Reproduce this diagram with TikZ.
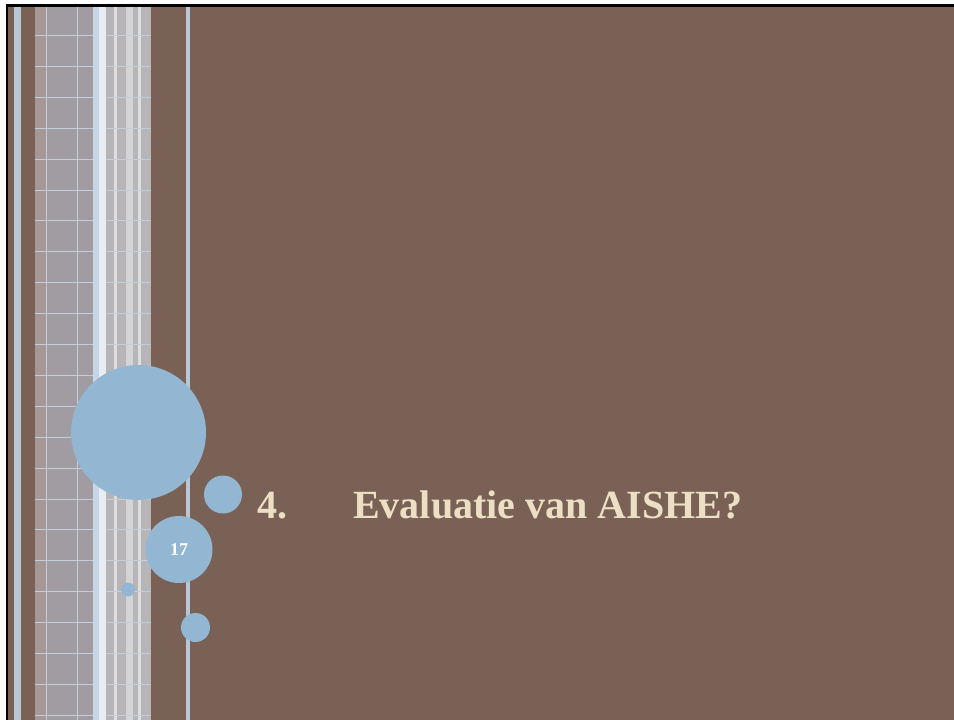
\documentclass[tikz,border=0pt]{standalone}
\usepackage{fontspec}
\setmainfont{Liberation Serif}
\definecolor{bg}{HTML}{796156}
\definecolor{circ}{HTML}{93B6D3}
\definecolor{cream}{HTML}{EDDFC4}
\definecolor{thinstripe}{HTML}{B9C6D3}
\definecolor{plaidA}{HTML}{A69896}
\definecolor{plaidB}{HTML}{A09CA1}
\definecolor{plaidC}{HTML}{B8B5B9}
\definecolor{plaidL}{HTML}{C2CEDC}
\definecolor{bandblue}{HTML}{C4D6E7}
\definecolor{bandwhite}{HTML}{E9EDF1}
\tikzset{
  dot/.style={circle, fill=circ, draw=none, inner sep=0pt},
  titletext/.style={anchor=base west, text=cream, inner sep=0pt, font=\bfseries\fontsize{40}{48}\selectfont},
}
\begin{document}
\begin{tikzpicture}[x=1pt,y=-1pt]
\useasboundingbox (0,0) rectangle (954,720);
\fill[white] (0,0) rectangle (954,720);
\fill[bg] (8,7) rectangle (954,720);
% thin stripes
\fill[thinstripe] (14,7) rectangle (21,720);
\fill[thinstripe] (186,7) rectangle (190,720);
% plaid
\fill[plaidA] (35,7) rectangle (46,720);
\fill[plaidB] (46,7) rectangle (93,720);
\fill[plaidC] (106,7) rectangle (151,720);
\fill[white!55!plaidC] (114,7) rectangle (117,720);
\fill[white!40!plaidC] (126,7) rectangle (133,720);
\fill[white!55!plaidC] (138,7) rectangle (141,720);
\fill[plaidL] (46,7) rectangle (47,720);
\fill[plaidL] (76.5,7) rectangle (77.5,720);
\foreach \i in {0,...,22} {
  \fill[plaidL] (35,35+\i*30.9) rectangle (151,35.9+\i*30.9);
}
\fill[bandblue] (93,7) rectangle (99,720);
\fill[bandwhite] (99,7) rectangle (106,720);
% border
\fill[black] (6,4) rectangle (954,7);
\fill[black] (6,4) rectangle (8,720);
% circles
\node[dot, minimum size=135pt] (big) at (138.5,432.5) {};
\node[dot, minimum size=38pt] (mid) at (223,494.5) {};
\node[dot, minimum size=67pt, text=white, font=\bfseries\fontsize{18}{20}\selectfont] (page) at (179,549.5) {17};
\node[dot, minimum size=14pt] (small) at (128,589.5) {};
\node[dot, minimum size=29pt] (low) at (195.5,627.5) {};
% title
\node[titletext] (num) at (257,518) {4.};
\node[titletext] (title) at (353,518) {Evaluatie van AISHE?};
\end{tikzpicture}
\end{document}
